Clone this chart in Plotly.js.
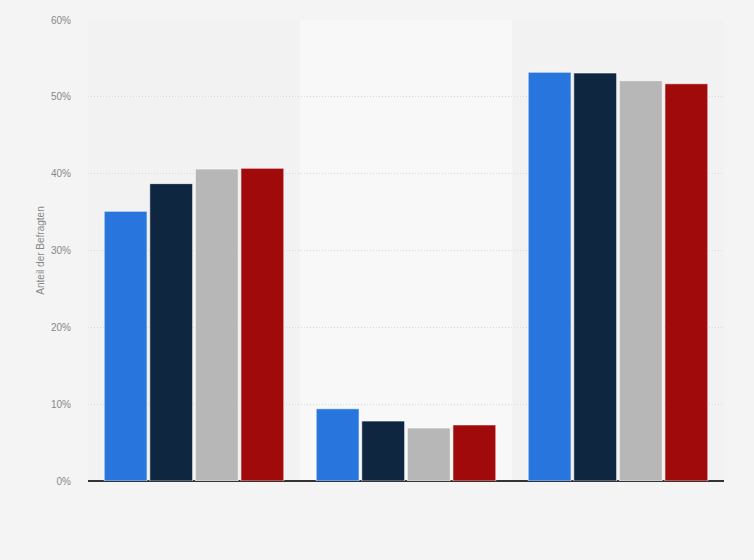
<!DOCTYPE html>
<html>
<head>
<meta charset="utf-8">
<script src="https://cdn.plot.ly/plotly-3.0.1.min.js"></script>
<style>
  html, body { margin: 0; padding: 0; background: #f4f4f4; }
  #chart { width: 754px; height: 560px; }
</style>
</head>
<body>
<div id="chart"></div>
<script>
// categories are not labelled in the picture
var categories = ['Gruppe 1', 'Gruppe 2', 'Gruppe 3'];
var seriesNames = ['Serie 1', 'Serie 2', 'Serie 3', 'Serie 4'];
var colors = ['#2876dd', '#0f2640', '#b7b7b7', '#a10a0a'];

var serie1 = [35.1, 9.4, 53.2];
var serie2 = [38.7, 7.8, 53.1];
var serie3 = [40.6, 6.9, 52.1];
var serie4 = [40.7, 7.3, 51.7];

var yTicks = [0, 10, 20, 30, 40, 50, 60];
var yTickText = ['0%', '10%', '20%', '30%', '40%', '50%', '60%'];

var allSeries = [serie1, serie2, serie3, serie4];

var data = allSeries.map(function(vals, i) {
    return {
        type: 'bar',
        name: seriesNames[i],
        x: categories,
        y: vals,
        marker: {
            color: colors[i],
            line: { color: 'rgba(255,255,255,0.6)', width: 1 }
        },
        hoverinfo: 'y'
    };
});

var layout = {
    width: 754,
    height: 560,
    margin: { t: 20, l: 88, r: 30, b: 79 },
    paper_bgcolor: '#f4f4f4',
    plot_bgcolor: '#f2f2f2',
    showlegend: false,
    barmode: 'group',
    bargap: 0.14,
    bargroupgap: 0.06,
    font: { family: 'Arial, Liberation Sans, sans-serif', color: '#888888', size: 10 },
    xaxis: {
        type: 'category',
        showticklabels: false,
        showgrid: false,
        zeroline: false,
        ticks: '',
        showline: false
    },
    yaxis: {
        range: [0, 60],
        tickvals: yTicks,
        ticktext: yTickText,
        showgrid: true,
        gridcolor: '#d9d9d9',
        griddash: '1px,2px',
        gridwidth: 1,
        zeroline: true,
        zerolinecolor: '#333333',
        zerolinewidth: 1.5,
        ticks: '',
        ticklabelstandoff: 16,
        tickfont: { size: 10, color: '#888888' },
        title: {
            text: 'Anteil der Befragten',
            font: { size: 10, color: '#888888' },
            standoff: 4
        }
    },
    shapes: [{
        type: 'rect',
        xref: 'x',
        yref: 'paper',
        x0: 0.5,
        x1: 1.5,
        y0: 0,
        y1: 1,
        fillcolor: '#f8f8f8',
        line: { width: 0 },
        layer: 'below'
    }]
};

Plotly.newPlot('chart', data, layout, { displayModeBar: false, staticPlot: true });
</script>
</body>
</html>
